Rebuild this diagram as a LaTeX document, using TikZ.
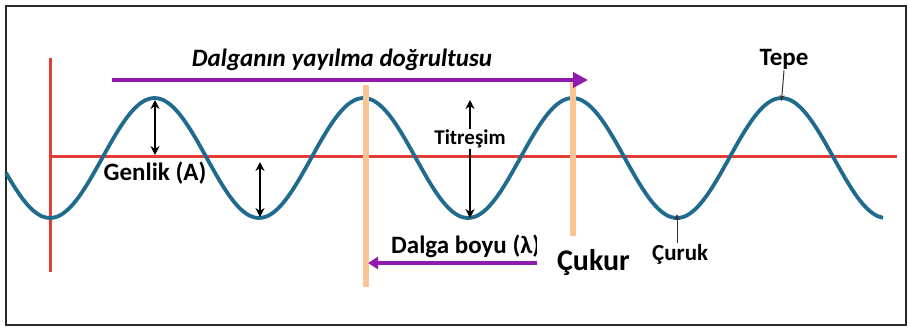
\documentclass[tikz,border=0pt]{standalone}
\usepackage{fontspec}
\setmainfont{Carlito}
\usepackage{tikz}
\usetikzlibrary{arrows.meta,positioning}
\definecolor{waveblue}{HTML}{1F6B8E}
\definecolor{axisred}{HTML}{E53B35}
\definecolor{crestorange}{HTML}{F9C594}
\definecolor{dirpurple}{HTML}{8E1AAE}
\definecolor{frameink}{HTML}{2A2A2A}
\tikzset{waveline/.style={draw=waveblue,line width=3.8pt}, axisline/.style={draw=axisred,line width=3pt},crestbar/.style={draw=crestorange,line width=5.5pt},dirarrow/.style={draw=dirpurple,line width=4pt,-{Triangle[length=15pt,width=15pt]}},lamarrow/.style={draw=dirpurple,line width=4pt,-{Triangle[length=10pt,width=12pt]}},ampline/.style={draw=black,line width=2.5pt,{Stealth[length=9pt,width=9pt]}-{Stealth[length=9pt,width=9pt]}},vibline/.style={draw=black,line width=2.5pt,-{Stealth[length=9pt,width=9pt]}},pointer/.style={draw=black!80,line width=1pt,-{Stealth[length=6pt,width=5pt]}},lbl/.style={font=\fontsize{25}{25}\selectfont\bfseries,inner sep=1pt},smlbl/.style={font=\fontsize{21}{21}\selectfont\bfseries,inner sep=1pt},dirlbl/.style={font=\fontsize{25}{25}\selectfont\bfseries\itshape,inner sep=1pt},coverbox/.style={fill=white,font=\fontsize{30}{30}\selectfont\bfseries,minimum width=113pt,minimum height=53pt,inner sep=0pt}}

\begin{document}
\begin{tikzpicture}[x=1pt,y=-1pt]
\useasboundingbox (0,0) rectangle (908,327);
\fill[white] (0,0) rectangle (908,327);
\draw[frameink,line width=2pt] (6,6) rectangle (906,325);
% axes
\draw[axisline] (50,58) -- (50,272);
\draw[axisline] (50,156) -- (897,156);
% the wave
\draw[waveline] plot[domain=6:883,samples=220,smooth] (\x,{158+60*cos(((\x-50)/209)*360)});
\coordinate (crestA) at (154.5,98);
\coordinate (troughB) at (259,218);
\coordinate (troughC) at (468,218);
\coordinate (troughD) at (677,218);
\coordinate (crestD) at (781.5,98);
% wavelength markers
\draw[crestbar] (366,85) -- (366,287);
\draw[crestbar] (573,80) -- (573,287);
\coordinate (dirS) at (112,80);
\coordinate (dirE) at (588,80);
\draw[dirarrow] (dirS) -- (dirE);
\node[dirlbl] (dir) at (342,60) {Dalganın yayılma doğrultusu};
\coordinate (lamR) at (590,263);
\coordinate (lamL) at (368,263);
\draw[lamarrow] (lamR) -- (lamL);
\node[lbl,anchor=west] (boyu) at (390,246) {Dalga boyu (λ)};
% amplitude
\draw[ampline] (155,100) -- (155,155);
\draw[ampline] (260,162) -- (260,217);
\node[lbl] (genlik) at (155,173) {Genlik (A)};
% vibration
\node[smlbl] (titr) at (470,139) {Titreşim};
\draw[vibline] (titr.north) -- (470,100);
\draw[vibline] (titr.south) -- (titr.south |- troughC);
% crest and trough
\node[lbl] (tepe) at (784,59) {Tepe};
\draw[pointer] (tepe.south) -- ([yshift=-3pt]crestD);
\node[smlbl,anchor=west,font=\fontsize{23}{23}\selectfont\bfseries] (curuk) at (651,254) {Çuruk};
\draw[pointer] (curuk.north -| troughD) -- ([yshift=4pt]troughD);
\node[coverbox] (cukur) at (593.5,262.5) {Çukur};
\end{tikzpicture}
\end{document}
